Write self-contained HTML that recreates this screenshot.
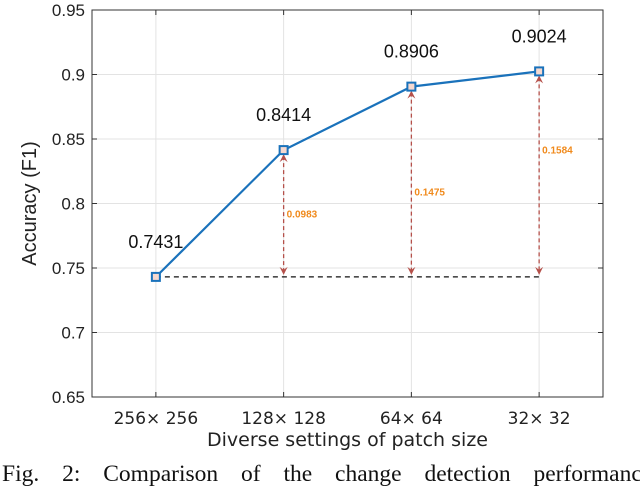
<!DOCTYPE html>
<html><head><meta charset="utf-8"><style>
body{margin:0;background:#fff;width:640px;height:482px;overflow:hidden;position:relative}
svg{position:absolute;left:0;top:0}
.cap{position:absolute;left:2px;top:461px;width:760px;font:23.5px "Liberation Serif",serif;word-spacing:17px;white-space:nowrap;color:#111}
</style></head><body>
<svg width="640" height="482" font-family="Liberation Sans, sans-serif">
<g id="grid"></g>
<g id="axes"></g>
<g id="marks"></g>
</svg>
<div class="cap">Fig. 2: Comparison of the change detection performance</div>
<script>
const categories=["256\u00d7 256","128\u00d7 128","64\u00d7 64","32\u00d7 32"];
const accuracy=[0.7431,0.8414,0.8906,0.9024];
const valueLabels=["0.7431","0.8414","0.8906","0.9024"];
const gainLabels=["0.0983","0.1475","0.1584"];
const gainLabelFrac=[0.5,0.55,0.38];
const yTicks=[0.65,0.7,0.75,0.8,0.85,0.9,0.95];
const yTickLabels=["0.65","0.7","0.75","0.8","0.85","0.9","0.95"];
const L=92,R=603,T=10,B=397;
const xs=i=>L+(i+0.5)*(R-L)/categories.length;
const ys=v=>B-(v-0.65)/(0.3)*(B-T);
const NS="http://www.w3.org/2000/svg";
const DJ="DejaVu Sans, sans-serif";
function mk(p,tag,a,txt){const e=document.createElementNS(NS,tag);for(const k in a)e.setAttribute(k,a[k]);if(txt!=null)e.textContent=txt;p.appendChild(e);return e;}
const g=document.getElementById('grid'),ax=document.getElementById('axes'),m=document.getElementById('marks');
yTicks.forEach((t,i)=>{const y=ys(t);
let l=mk(g,'line',{x1:L,x2:R,y1:y,y2:y,stroke:'#e3e3e3'});
mk(ax,'line',{x1:L,x2:L+5,y1:y,y2:y,stroke:'#333'});mk(ax,'line',{x1:R,x2:R-5,y1:y,y2:y,stroke:'#333'});
let tx=mk(ax,'text',{x:L-7,y:y+6,'text-anchor':'end','font-size':17,fill:'#222'},yTickLabels[i]);});
categories.forEach((c,i)=>{const x=xs(i);
let l=mk(g,'line',{x1:x,x2:x,y1:T,y2:B,stroke:'#e3e3e3'});
mk(ax,'line',{x1:x,x2:x,y1:B,y2:B-5,stroke:'#333'});mk(ax,'line',{x1:x,x2:x,y1:T,y2:T+5,stroke:'#333'});
let tx=mk(ax,'text',{x:x,y:B+27,'text-anchor':'middle','font-size':17,'font-family':DJ,fill:'#222'},c);});
let fr=mk(ax,'rect',{x:L,y:T,width:R-L,height:B-T,fill:'none',stroke:'#333','stroke-width':1});
let xt=mk(ax,'text',{x:(L+R)/2,y:446,'text-anchor':'middle','font-size':19,'font-family':DJ,fill:'#222'},'Diverse settings of patch size');
let yt=mk(ax,'text',{x:0,y:0,'text-anchor':'middle','font-size':20,fill:'#222',transform:`translate(36,${(T+B)/2}) rotate(-90)`},'Accuracy (F1)');
const by=ys(accuracy[0]);
let bl=mk(m,'line',{x1:xs(0),x2:xs(categories.length-1),y1:by,y2:by,stroke:'#111','stroke-width':1.3,'stroke-dasharray':'5,4'});
for(let i=1;i<accuracy.length;i++){const x=xs(i),y=ys(accuracy[i]);
let a=mk(m,'line',{x1:x,x2:x,y1:y+6,y2:by-6,stroke:'#b5504a','stroke-width':1.3,'stroke-dasharray':'4,3'});
mk(m,'path',{d:`M${x-4},${y+12}L${x},${y+4}L${x+4},${y+12}L${x},${y+9}Z`,fill:'#b5504a'});
mk(m,'path',{d:`M${x-4},${by-10}L${x},${by-2}L${x+4},${by-10}L${x},${by-7}Z`,fill:'#b5504a'});
let gt=mk(m,'text',{x:x+3,y:y+(by-y)*gainLabelFrac[i-1]+4,'font-size':10,'font-weight':'bold',fill:'#f08a1c'},gainLabels[i-1]);}
let pts=accuracy.map((v,i)=>xs(i)+','+ys(v)).join(' ');
let ln=mk(m,'polyline',{points:pts,fill:'none',stroke:'#1a72bb','stroke-width':2.2});
accuracy.forEach((v,i)=>{const x=xs(i),y=ys(v);
let r=mk(m,'rect',{x:x-4,y:y-4,width:8,height:8,fill:'#f5d9d0',stroke:'#1a72bb','stroke-width':2});
let t=mk(m,'text',{x:x,y:y-29,'text-anchor':'middle','font-size':18,fill:'#111'},valueLabels[i]);});
</script>
</body></html>
